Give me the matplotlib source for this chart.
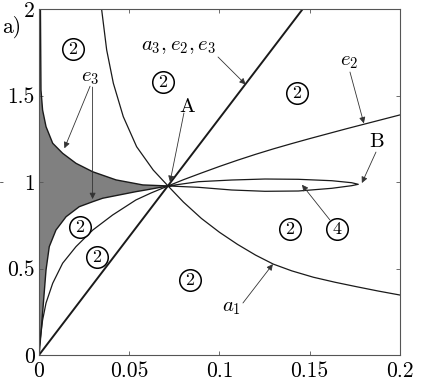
import matplotlib
matplotlib.use("Agg")
import matplotlib.pyplot as plt
import numpy as np

plt.rcParams['font.family'] = ['cmr10', 'DejaVu Serif']
plt.rcParams['mathtext.fontset'] = 'cm'
plt.rcParams['axes.formatter.use_mathtext'] = True

# crossing point A
A = (0.0715, 0.978)

# straight line a3, e2, e3
line_x = [0.0, 0.146]
line_y = [0.0, 2.0]

# upper boundary of the shaded area (e3)
up_x = [0.0008, 0.0011, 0.0020, 0.0039, 0.0076, 0.0131, 0.0205, 0.0298, 0.0427, 0.0575, A[0]]
up_y = [2.0, 1.533, 1.417, 1.321, 1.225, 1.167, 1.109, 1.060, 1.013, 0.984, A[1]]

# lower boundary of the shaded area (e3)
lo_x = [0.0, 0.0002, 0.0020, 0.0039, 0.0057, 0.0094, 0.0150, 0.0223, 0.0298, 0.0353, 0.0445, 0.0537, 0.0593, A[0]]
lo_y = [0.0, 0.012, 0.243, 0.492, 0.627, 0.723, 0.800, 0.858, 0.887, 0.907, 0.926, 0.945, 0.955, A[1]]

# e2 curve (origin -> A -> right edge)
e2_x = [0.0, 0.0002, 0.0020, 0.0039, 0.0076, 0.0131, 0.0205, 0.0298, 0.0408, 0.0537, 0.062, A[0],
        0.08, 0.09, 0.10, 0.11, 0.12, 0.13, 0.14, 0.15, 0.16, 0.17, 0.18, 0.19, 0.2]
e2_y = [0.0, 0.048, 0.202, 0.301, 0.415, 0.531, 0.627, 0.723, 0.810, 0.897, 0.937, A[1],
        1.014, 1.053, 1.091, 1.127, 1.161, 1.193, 1.223, 1.252, 1.280, 1.308, 1.335, 1.362, 1.389]

# a1 curve
a1_x = [0.0347, 0.0375, 0.0412, 0.0467, 0.0541, 0.0633, A[0],
        0.08, 0.09, 0.10, 0.11, 0.12, 0.1298, 0.14, 0.152, 0.164, 0.176, 0.188, 0.2]
a1_y = [2.0, 1.765, 1.572, 1.379, 1.205, 1.070, A[1],
        0.885, 0.790, 0.710, 0.640, 0.578, 0.526, 0.487, 0.450, 0.421, 0.395, 0.370, 0.347]

# loop A -> B
loop_x = [A[0], 0.0883, 0.1068, 0.1252, 0.1437, 0.1622, 0.1732, 0.1769,
          0.1732, 0.1622, 0.1437, 0.1252, 0.1068, 0.0883, A[0]]
loop_y = [A[1], 1.0026, 1.0124, 1.0182, 1.0165, 1.0084, 0.9968, 0.9876,
          0.9795, 0.9644, 0.9488, 0.9471, 0.9546, 0.9702, A[1]]

# circled region numbers
reg_x = [0.0188, 0.0687, 0.1429, 0.0227, 0.0321, 0.1391, 0.1651, 0.0837]
reg_y = [1.770, 1.579, 1.516, 0.741, 0.567, 0.729, 0.729, 0.434]
reg_n = ['2', '2', '2', '2', '2', '2', '4', '2']

# labels and arrows: (text, text pos, [(arrow start, arrow end), ...])
labels = [
    (r'$e_3$', (0.0283, 1.600), [((0.0283, 1.555), (0.0141, 1.196)),
                                 ((0.0297, 1.550), (0.0297, 0.902))]),
    (r'$a_3, e_2, e_3$', (0.0775, 1.782), [((0.0992, 1.724), (0.1145, 1.565))]),
    ('A', (0.0820, 1.435), [((0.0803, 1.400), (0.0726, 1.001))]),
    (r'$e_2$', (0.1717, 1.695), [((0.1723, 1.637), (0.1800, 1.340))]),
    ('B', (0.1873, 1.230), [((0.1867, 1.174), (0.1789, 0.995))]),
    (None, None, [((0.1612, 0.781), (0.1457, 0.985))]),
    (r'$a_1$', (0.1069, 0.272), [((0.1130, 0.301), (0.1296, 0.526))]),
]

fig = plt.figure(figsize=(4.27, 3.81), dpi=100)
ax = fig.add_axes([0.0913, 0.0682, 0.8454, 0.9074])

lc = '#1a1a1a'
ax.fill(up_x + lo_x[::-1] + [0.0], up_y + lo_y[::-1] + [2.0], color='#808080', lw=0)
ax.plot(up_x, up_y, color=lc, lw=1.0)
ax.plot(lo_x, lo_y, color=lc, lw=1.0)
ax.plot(e2_x, e2_y, color=lc, lw=0.9)
ax.plot(a1_x, a1_y, color=lc, lw=0.9)
ax.plot(loop_x, loop_y, color=lc, lw=0.9)
ax.plot(line_x, line_y, color=lc, lw=1.4)

ax.plot(reg_x, reg_y, 'o', ms=15.5, mfc='white', mec='k', mew=1.1, zorder=4)
for x, y, n in zip(reg_x, reg_y, reg_n):
    ax.text(x, y, n, ha='center', va='center', fontsize=13, zorder=5)

for txt, pos, arrows in labels:
    if txt:
        ax.text(pos[0], pos[1], txt, ha='center', va='center', fontsize=15)
    for s, e in arrows:
        ax.annotate('', xy=e, xytext=s,
                    arrowprops=dict(arrowstyle='-|>', lw=0.6, color='#333333',
                                    mutation_scale=9, shrinkA=0, shrinkB=0))

ax.set_xlim(0, 0.2)
ax.set_ylim(0, 2)
ax.set_xticks([0, 0.05, 0.1, 0.15, 0.2])
ax.set_xticklabels(['0', '0.05', '0.1', '0.15', '0.2'])
ax.set_yticks([0, 0.5, 1, 1.5, 2])
ax.set_yticklabels(['0', '0.5', '1', '1.5', '2'])
ax.tick_params(direction='in', top=True, right=True, length=3, width=0.6,
               color='#555555', labelsize=15.5)
ax.tick_params(axis='x', pad=5)
ax.tick_params(axis='y', pad=3)
for sp in ax.spines.values():
    sp.set_color('#555555')
    sp.set_linewidth(0.8)

fig.text(0.004, 0.93, 'a)', fontsize=15.5, ha='left', va='center')
fig.text(0.0, 1 - 182 / 381, '-', fontsize=9, ha='left', va='center', color='#444444')

fig.savefig('out.png', dpi=100)
